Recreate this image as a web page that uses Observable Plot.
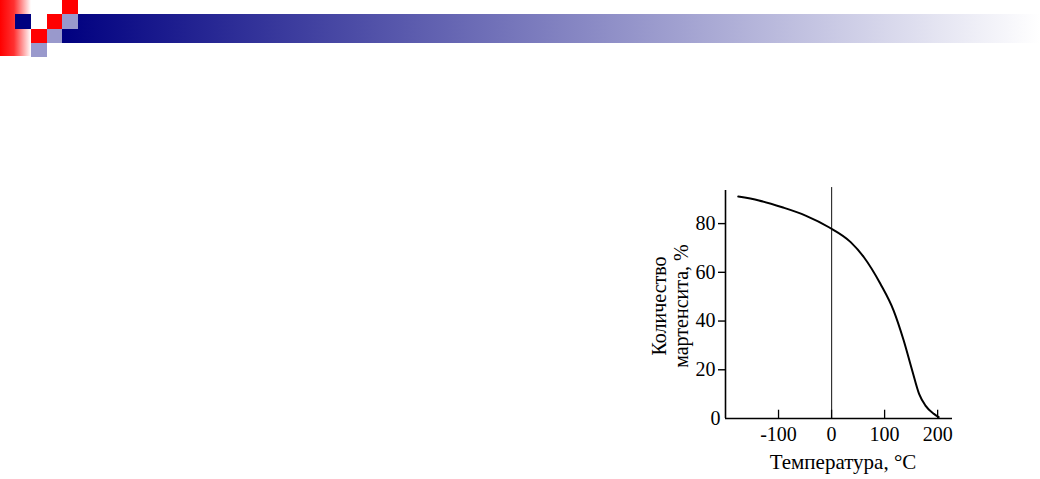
<!DOCTYPE html>
<html><head><meta charset="utf-8">
<script src="https://cdn.jsdelivr.net/npm/d3@7"></script>
<script src="https://cdn.jsdelivr.net/npm/@observablehq/plot@0.6"></script>
<style>
html,body{margin:0;padding:0;background:#fff;}
#wrap{position:relative;width:1040px;height:479px;overflow:hidden;background:#fff;}
#wrap svg{position:absolute;left:0;top:0;}
.deco{position:absolute;}
</style></head><body>
<div id="wrap"></div>
<script>
// Data
const temperature = [-176, -137, -93, -49, -5, 36, 61, 92, 117, 136, 152, 165, 177, 193, 202];
const martensite  = [91.1, 89.5, 86.7, 83.3, 78.5, 72.4, 66.2, 55.3, 44.3, 32.0, 19.7, 10.1, 5.3, 1.9, 0.6];
const yTicks = [20, 40, 60, 80];
const yZeroTick = [0];
const xTickLabels = [-100, 0, 100, 200];
const xTickMarks = [-100, 0, 100, 200];
const xTitle = "Температура, °C";
const yTitle = ["Количество", "мартенсита, %"];

const rows = temperature.map((t, i) => ({t, m: martensite[i]}));

const chart = Plot.plot({
  width: 1040,
  height: 479,
  marginLeft: 725,
  marginRight: 88,
  marginTop: 189,
  marginBottom: 61,
  x: {domain: [-200, 228]},
  y: {domain: [0, 94]},
  style: {fontFamily: "'Liberation Serif', 'DejaVu Serif', serif", fontSize: "20px", background: "white", color: "black"},
  marks: [
    Plot.ruleX([0], {y1: 0, y2: 94.8, stroke: "#333", strokeWidth: 1.2}),
    Plot.ruleY([0], {x1: -200, x2: 228, stroke: "black", strokeWidth: 1.6}),
    Plot.ruleX([-200], {y1: 0, y2: 93.6, stroke: "black", strokeWidth: 1.6}),
    Plot.ruleX(xTickMarks, {y1: 0, y2: 3.4, stroke: "black", strokeWidth: 1.3}),
    Plot.axisY(yTicks, {anchor: "left", tickSize: 7, tickPadding: 3, strokeWidth: 1.4, tickFormat: d => String(d), label: null, fontSize: 20}),
    Plot.axisY(yZeroTick, {anchor: "left", tickSize: 0, tickPadding: 5, tickFormat: d => String(d), label: null, fontSize: 20}),
    Plot.axisX(xTickLabels, {anchor: "bottom", tickSize: 0, tickPadding: 8, tickFormat: d => String(d), label: null, fontSize: 20}),
    Plot.text([xTitle], {frameAnchor: "bottom", lineAnchor: "middle", textAnchor: "middle", dy: 44, dx: 4, fontSize: 21}),
    Plot.text([yTitle.join("\n")], {frameAnchor: "left", textAnchor: "middle", lineAnchor: "middle", rotate: -90, dx: -56, dy: 2, lineHeight: 1.1, fontSize: 20}),
    Plot.line(rows, {x: "t", y: "m", curve: "monotone-x", stroke: "black", strokeWidth: 2})
  ]
});
const wrap = document.getElementById("wrap");
wrap.appendChild(chart);

// Slide header decoration
function deco(l, t, w, h, bg) {
  const d = document.createElement("div");
  d.className = "deco";
  Object.assign(d.style, {left: l + "px", top: t + "px", width: w + "px", height: h + "px", background: bg});
  wrap.appendChild(d);
}
deco(0, 0, 31, 56, "linear-gradient(to right, #ff0000, #ff3030 45%, #ffffff)");
deco(62, 14, 978, 29, "linear-gradient(to right, #000080, #ffffff)");
deco(62, 0, 16, 14, "#ff0000");
deco(15, 14, 16, 15, "#000080");
deco(47, 14, 15, 15, "#ff0000");
deco(62, 14, 16, 15, "#9999cc");
deco(31, 29, 16, 14, "#ff0000");
deco(47, 29, 15, 14, "#9999cc");
deco(31, 43, 16, 14, "#9999cc");
</script>
</body></html>
